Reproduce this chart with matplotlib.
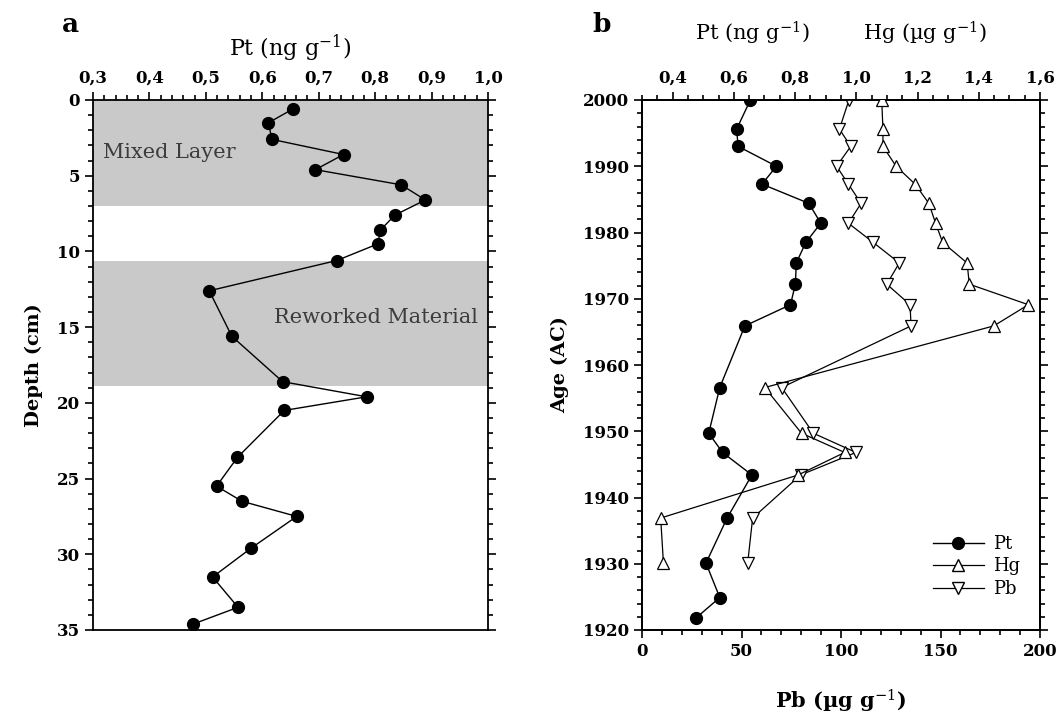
import matplotlib
matplotlib.use("Agg")
import matplotlib.pyplot as plt
from matplotlib.ticker import MultipleLocator, FuncFormatter
from matplotlib.lines import Line2D

plt.rcParams['font.family'] = ['DejaVu Serif']
plt.rcParams['mathtext.fontset'] = 'dejavuserif'

# Panel a: Pt profile versus depth
depth_cm = [0.6, 1.5, 2.6, 3.6, 4.6, 5.6, 6.6, 7.6, 8.6, 9.5, 10.6, 12.6,
            15.6, 18.6, 19.6, 20.5, 23.6, 25.5, 26.5, 27.5, 29.6, 31.5, 33.5, 34.6]
pt_depth = [0.654, 0.611, 0.617, 0.744, 0.694, 0.846, 0.889, 0.835, 0.809, 0.805,
            0.732, 0.506, 0.546, 0.636, 0.785, 0.639, 0.556, 0.519, 0.564, 0.661,
            0.580, 0.512, 0.557, 0.478]
mixed_layer = (0.0, 7.0)
reworked = (10.6, 18.9)

# Panel b: Pt, Hg and Pb versus age
age_pt = [2000.0, 1995.6, 1993.0, 1990.0, 1987.3, 1984.4, 1981.4, 1978.5, 1975.4,
          1972.2, 1969.1, 1965.9, 1956.6, 1949.7, 1946.8, 1943.4, 1936.9, 1930.1,
          1924.9, 1921.8]
pt_age = [0.654, 0.609, 0.614, 0.739, 0.692, 0.845, 0.884, 0.835, 0.804, 0.801,
          0.785, 0.636, 0.554, 0.518, 0.563, 0.659, 0.578, 0.509, 0.554, 0.476]
age_metals = age_pt[:18]
hg = [1.083, 1.087, 1.087, 1.130, 1.192, 1.237, 1.259, 1.282, 1.362, 1.369,
      1.562, 1.449, 0.701, 0.821, 0.962, 0.810, 0.361, 0.370]
pb = [104.0, 99.2, 104.9, 97.8, 103.7, 110.1, 103.7, 116.2, 129.3, 123.0,
      134.7, 135.2, 70.2, 86.1, 107.5, 79.7, 55.6, 53.1]

W, H = 1059, 722
fig = plt.figure(figsize=(W / 100, H / 100), dpi=100)

def comma(v, pos):
    return f"{v:.1f}".replace('.', ',')

# ---------------- panel a ----------------
axa = fig.add_axes([93 / W, 1 - 630 / H, 395 / W, 530 / H])
axa.axhspan(*mixed_layer, color='#c9c9c9', lw=0, zorder=0)
axa.axhspan(*reworked, color='#c9c9c9', lw=0, zorder=0)
axa.plot(pt_depth, depth_cm, '-o', color='black', lw=1.0, ms=8.5, zorder=3)
axa.set_xlim(0.3, 1.0)
axa.set_ylim(35, 0)
axa.xaxis.set_ticks_position('top')
axa.xaxis.set_label_position('top')
axa.xaxis.set_major_locator(MultipleLocator(0.1))
axa.xaxis.set_minor_locator(MultipleLocator(0.02))
axa.xaxis.set_major_formatter(FuncFormatter(comma))
axa.yaxis.set_major_locator(MultipleLocator(5))
axa.yaxis.set_minor_locator(MultipleLocator(1))
axa.tick_params(axis='both', which='both', direction='out', width=1.2)
axa.tick_params(axis='both', which='major', length=6)
axa.tick_params(axis='both', which='minor', length=3.5)
axa.tick_params(axis='y', which='both', left=True, right=True)
for lab in axa.get_xticklabels() + axa.get_yticklabels():
    lab.set_fontsize(12)
    lab.set_fontweight('bold')
axa.set_xlabel('Pt (ng g$^{-1}$)', fontsize=16, labelpad=10)
axa.set_ylabel('Depth (cm)', fontsize=14, fontweight='bold', labelpad=10)
for s in axa.spines.values():
    s.set_linewidth(1.3)
axa.text(0.025, 0.9, 'Mixed Layer', transform=axa.transAxes, fontsize=15,
         color='#3c3c3c', va='center', ha='left')
axa.text(0.975, 0.59, 'Reworked Material', transform=axa.transAxes, fontsize=15,
         color='#3c3c3c', va='center', ha='right')
fig.text(70 / W, 1 - 24 / H, 'a', fontsize=19, fontweight='bold', ha='center', va='center')

# ---------------- panel b ----------------
axb = fig.add_axes([642 / W, 1 - 630 / H, 398 / W, 530 / H])
axt = axb.twiny()
axb.plot(pb, age_metals, '-v', color='black', lw=0.9, ms=9, mfc='white',
         mec='black', mew=0.9, zorder=3)
axt.plot(hg, age_metals, '-^', color='black', lw=0.9, ms=9, mfc='white',
         mec='black', mew=0.9, zorder=3)
axt.plot(pt_age, age_pt, '-o', color='black', lw=1.0, ms=8.5, zorder=4)
axb.set_xlim(0, 200)
axb.set_ylim(1920, 2000)
axt.set_xlim(0.3, 1.6)
axb.xaxis.set_major_locator(MultipleLocator(50))
axb.xaxis.set_minor_locator(MultipleLocator(10))
axb.yaxis.set_major_locator(MultipleLocator(10))
axb.yaxis.set_minor_locator(MultipleLocator(2))
axt.xaxis.set_major_locator(MultipleLocator(0.2))
axt.xaxis.set_minor_locator(MultipleLocator(0.05))
axt.xaxis.set_major_formatter(FuncFormatter(comma))
for ax in (axb, axt):
    ax.tick_params(axis='both', which='both', direction='out', width=1.2)
    ax.tick_params(axis='both', which='major', length=6)
    ax.tick_params(axis='both', which='minor', length=3.5)
    for s in ax.spines.values():
        s.set_linewidth(1.3)
axb.tick_params(axis='y', which='both', left=True, right=True)
axt.set_xticks([0.4, 0.6, 0.8, 1.0, 1.2, 1.4, 1.6])
for lab in axb.get_xticklabels() + axb.get_yticklabels() + axt.get_xticklabels():
    lab.set_fontsize(12)
    lab.set_fontweight('bold')
axb.set_xlabel('Pb (µg g$^{-1}$)', fontsize=15, fontweight='bold', labelpad=20)
axb.set_ylabel('Age (AC)', fontsize=14, fontweight='bold', labelpad=10)
fig.text(752 / W, 1 - 33 / H, 'Pt (ng g$^{-1}$)', fontsize=15, ha='center', va='center')
fig.text(925 / W, 1 - 33 / H, 'Hg (µg g$^{-1}$)', fontsize=15, ha='center', va='center')
fig.text(602 / W, 1 - 24 / H, 'b', fontsize=19, fontweight='bold', ha='center', va='center')

handles = [
    Line2D([], [], color='black', lw=1.0, marker='o', ms=8.5),
    Line2D([], [], color='black', lw=0.9, marker='^', ms=8, mfc='white', mec='black'),
    Line2D([], [], color='black', lw=0.9, marker='v', ms=8, mfc='white', mec='black'),
]
axt.legend(handles, ['Pt', 'Hg', 'Pb'], loc='lower right', bbox_to_anchor=(0.99, 0.03),
           frameon=False, fontsize=13, handlelength=2.8, labelspacing=0.25,
           handletextpad=0.5)

fig.savefig('out.png', dpi=100)
